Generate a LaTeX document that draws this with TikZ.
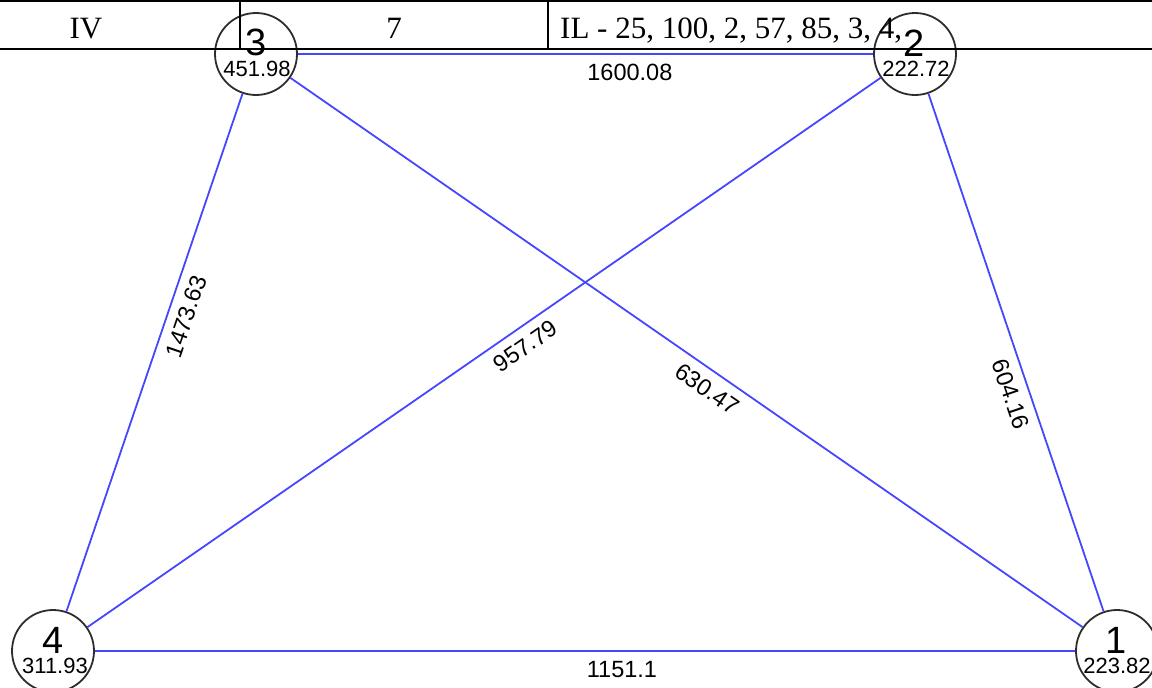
\documentclass[tikz,border=0pt]{standalone}
\usepackage{fontspec}
\setmainfont{Liberation Sans}
\newfontfamily\tablefont{Liberation Serif}
\definecolor{edgeblue}{RGB}{70,70,255}
\definecolor{ringgray}{RGB}{45,45,45}
\begin{document}
\begin{tikzpicture}[x=1pt,y=-1pt,
  vert/.style={circle,draw=ringgray,line width=1.8pt,minimum size=82pt,inner sep=0pt},
  num/.style={anchor=base,inner sep=0pt,font=\fontsize{38}{38}\selectfont},
  val/.style={anchor=base,inner sep=0pt,font=\fontsize{22}{22}\selectfont},
  link/.style={draw=edgeblue,line width=1.8pt},
  elabel/.style={font=\fontsize{23.5}{23.5}\selectfont,sloped,anchor=north west,inner xsep=1pt,inner ysep=9pt},
  tline/.style={line width=2pt,black},
  ttext/.style={anchor=base,inner sep=0pt,font=\tablefont\fontsize{31}{31}\selectfont}]
\useasboundingbox (0,0) rectangle (1152,688);

% vertices
\node[vert] (n3) at (256,54) {};
\node[vert] (n2) at (915,54) {};
\node[vert] (n4) at (53,651) {};
\node[vert] (n1) at (1117,651) {};

\node[num] (n3num) at (256,55) {3};
\node[val] (n3val) at (257,76) {451.98};
\node[num] (n2num) at (914,56) {2};
\node[val] (n2val) at (916,76) {222.72};
\node[num] (n4num) at (53,653) {4};
\node[val] (n4val) at (55,673) {311.93};
\node[num] (n1num) at (1116,653) {1};
\node[val] (n1val) at (1117,673) {223.82};

% edges
\draw[link] (n4) -- node[elabel] (l43) {1473.63} (n3);
\draw[link] (n3) -- node[elabel] (l32) {1600.08} (n2);
\draw[link] (n2) -- node[elabel] (l21) {604.16} (n1);
\draw[link] (n4) -- node[elabel] (l41) {1151.1} (n1);
\draw[link] (n4) -- node[elabel] (l42) {957.79} (n2);
\draw[link] (n3) -- node[elabel] (l31) {630.47} (n1);

% table row on top
\draw[tline] (0,1) -- (1152,1);
\draw[tline] (0,49) -- (1152,49);
\draw[tline] (240,0) -- (240,49);
\draw[tline] (548,0) -- (548,49);
\node[ttext] (c1) at (86,38) {IV};
\node[ttext] (c2) at (394,38) {7};
\node[ttext,anchor=base west] (c3) at (560,38) {IL - 25, 100, 2, 57, 85, 3, 4,};
\end{tikzpicture}
\end{document}
